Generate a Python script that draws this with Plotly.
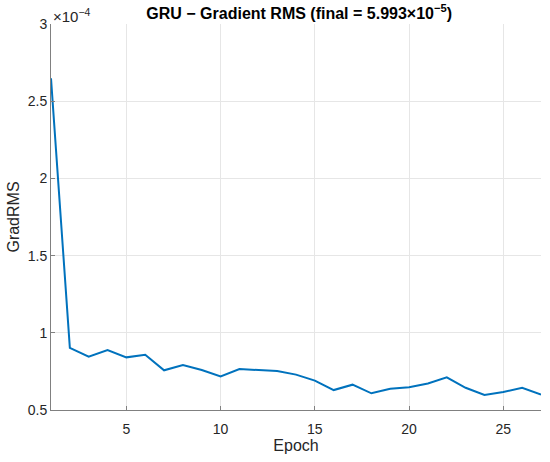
import plotly.graph_objects as go

# Gradient RMS per epoch, in units of 1e-4
EPOCHS = list(range(1, 28))
GRAD_RMS_E4 = [2.648, 0.903, 0.845, 0.888, 0.841, 0.858, 0.757, 0.791, 0.759,
               0.718, 0.765, 0.757, 0.752, 0.729, 0.690, 0.629, 0.664, 0.608,
               0.638, 0.647, 0.672, 0.711, 0.644, 0.597, 0.616, 0.644, 0.5993]
X_TICKS = [5, 10, 15, 20, 25]
Y_TICKS = [0.5, 1, 1.5, 2, 2.5, 3]
Y_TICK_TEXT = ["0.5", "1", "1.5", "2", "2.5", "3"]

FONT = "Liberation Sans, Arial, Helvetica, sans-serif"
AXCOL = "#262626"

fig = go.Figure(go.Scatter(x=EPOCHS, y=GRAD_RMS_E4, mode="lines",
                           line=dict(color="#0072BD", width=2),
                           showlegend=False))

axis_common = dict(showgrid=True, gridcolor="#e6e6e6", gridwidth=1,
                   showline=True, linecolor="#808080", linewidth=1,
                   ticks="inside", ticklen=4, tickcolor="#808080",
                   tickfont=dict(family=FONT, size=14, color=AXCOL),
                   zeroline=False, mirror=False, automargin=False)

fig.update_xaxes(range=[1, 27], tickvals=X_TICKS, ticklabelstandoff=6,
                 title=dict(text="Epoch", font=dict(family=FONT, size=16, color=AXCOL),
                            standoff=4),
                 **axis_common)
fig.update_yaxes(range=[0.5, 3], tickvals=Y_TICKS, ticktext=Y_TICK_TEXT,
                 title=dict(text="GradRMS", font=dict(family=FONT, size=16, color=AXCOL),
                            standoff=4),
                 **axis_common)

fig.add_annotation(text="×10<sup>−4</sup>", xref="paper", yref="paper",
                   x=0, y=1, xanchor="left", yanchor="bottom", showarrow=False,
                   font=dict(family=FONT, size=15, color=AXCOL), xshift=0, yshift=-3)

fig.update_layout(
    width=550, height=462,
    margin=dict(l=51, r=9, t=24, b=52),
    plot_bgcolor="white", paper_bgcolor="white",
    title=dict(text="<b>GRU − Gradient RMS (final = 5.993×10<sup>−5</sup>)</b>",
               x=0.544, xanchor="center", y=0.972, yanchor="middle",
               font=dict(family=FONT, size=16, color="black")),
)

# page body has an 8px default margin; drop it so the figure sits at 0,0
fig.write_html("out.html", config={"displayModeBar": False},
               post_script="document.body.style.margin='0';")
